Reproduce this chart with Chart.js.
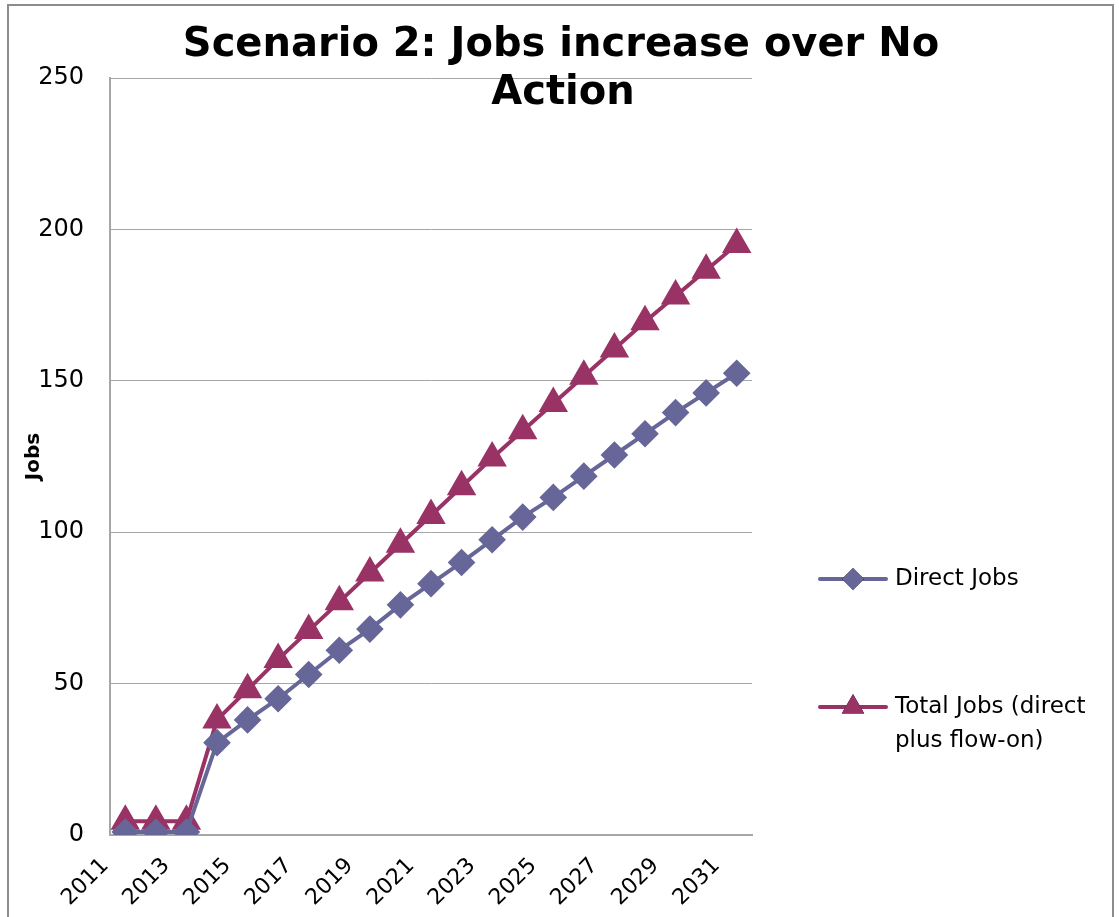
<!DOCTYPE html>
<html>
<head>
<meta charset="utf-8">
<script src="https://cdn.jsdelivr.net/npm/chart.js@4"></script>
<style>
  body { margin: 0; background: #fff; }
  canvas { display: block; }
</style>
</head>
<body>
<canvas id="jobsChart" width="1119" height="917"></canvas>
<script>
// --- data ---
const years = ['2011','2012','2013','2014','2015','2016','2017','2018','2019','2020',
               '2021','2022','2023','2024','2025','2026','2027','2028','2029','2030','2031'];
const directJobs = [1, 1, 1, 30.5, 38, 45, 53, 61, 68, 76, 83, 90, 97.5, 105, 111.5, 118.5, 125.5, 132.5, 139.5, 146, 152.5];
const totalJobs  = [4.5, 4.5, 4.5, 38, 48, 58, 67.5, 77, 86.5, 96, 105.5, 115, 124.5, 133.5, 142.5, 151.5, 160.5, 169.5, 178, 186.5, 195];
const yTicks = [0, 50, 100, 150, 200, 250];
const titleLines = ['Scenario 2: Jobs increase over No', 'Action'];
const legendLines = [['Direct Jobs'], ['Total Jobs (direct', 'plus flow-on)']];

const directColor = '#666699';
const totalColor = '#993366';

// outer frame + title + legend drawn on the canvas
const framePlugin = {
    id: 'frame',
    beforeDraw(chart) {
        const ctx = chart.ctx;
        ctx.save();
        ctx.fillStyle = '#fff';
        ctx.fillRect(0, 0, chart.width, chart.height);
        ctx.restore();
    },
    afterDraw(chart) {
        const ctx = chart.ctx;
        ctx.save();

        // title
        ctx.fillStyle = '#000';
        ctx.font = 'bold 40px "DejaVu Sans"';
        ctx.textAlign = 'center';
        ctx.textBaseline = 'middle';
        ctx.fillText(titleLines[0], 561, 46);
        ctx.fillText(titleLines[1], 563, 94);

        // legend
        const rows = [579, 707];
        chart.data.datasets.forEach((ds, i) => {
            const y = rows[i];
            ctx.strokeStyle = ds.borderColor;
            ctx.lineWidth = 4;
            ctx.lineCap = 'round';
            ctx.beginPath();
            ctx.moveTo(820, y);
            ctx.lineTo(886, y);
            ctx.stroke();
            Chart.helpers.drawPoint(ctx, {
                pointStyle: ds.pointStyle,
                radius: ds.pointRadius,
                borderWidth: 0
            }, 853, y);
            ctx.fillStyle = ds.pointBackgroundColor;
            ctx.fill();
            ctx.fillStyle = '#000';
            ctx.font = '23px "DejaVu Sans"';
            ctx.textAlign = 'left';
            ctx.textBaseline = 'middle';
            legendLines[i].forEach((t, k) => ctx.fillText(t, 895, y + k * 34));
        });

        // chart border
        ctx.strokeStyle = '#8c8c8c';
        ctx.lineWidth = 2;
        ctx.strokeRect(8, 5, 1105, 940);
        ctx.restore();
    }
};

const ctx = document.getElementById('jobsChart').getContext('2d');
const jobsChart = new Chart(ctx, {
    type: 'line',
    data: {
        labels: years,
        datasets: [{
            label: 'Direct Jobs',
            data: directJobs,
            borderColor: directColor,
            backgroundColor: directColor,
            pointBackgroundColor: directColor,
            pointBorderColor: directColor,
            pointStyle: 'rectRot',
            pointRadius: 11,
            borderWidth: 4,
            tension: 0
        }, {
            label: 'Total Jobs (direct plus flow-on)',
            data: totalJobs,
            borderColor: totalColor,
            backgroundColor: totalColor,
            pointBackgroundColor: totalColor,
            pointBorderColor: totalColor,
            pointStyle: 'triangle',
            pointRadius: 13,
            borderWidth: 4,
            tension: 0
        }]
    },
    options: {
        responsive: false,
        animation: false,
        layout: {
            padding: { left: 10, top: 78, right: 367, bottom: 0 }
        },
        plugins: {
            legend: { display: false },
            title: { display: false },
            tooltip: { enabled: false }
        },
        scales: {
            x: {
                offset: true,
                afterFit(scale) { scale.height = 82; },
                grid: { display: false, drawTicks: false },
                border: { color: '#a6a6a6', width: 2 },
                ticks: {
                    autoSkip: false,
                    minRotation: 45,
                    maxRotation: 45,
                    padding: 18,
                    labelOffset: -20,
                    color: '#000',
                    font: { family: 'DejaVu Sans', size: 22 },
                    callback(value, index) {
                        return index % 2 === 0 ? years[index] : '';
                    }
                }
            },
            y: {
                min: yTicks[0],
                max: yTicks[yTicks.length - 1],
                afterFit(scale) { scale.width = 100; },
                afterBuildTicks(scale) {
                    scale.ticks = yTicks.map(v => ({ value: v }));
                },
                grid: { color: '#a6a6a6', lineWidth: 1, drawTicks: false },
                border: { color: '#a6a6a6', width: 2 },
                ticks: {
                    padding: 26,
                    color: '#000',
                    font: { family: 'DejaVu Sans', size: 24 }
                },
                title: {
                    display: true,
                    text: 'Jobs',
                    color: '#000',
                    padding: { top: 12, bottom: 0 },
                    font: { family: 'DejaVu Sans', size: 20, weight: 'bold' }
                }
            }
        }
    },
    plugins: [framePlugin]
});
</script>
</body>
</html>
